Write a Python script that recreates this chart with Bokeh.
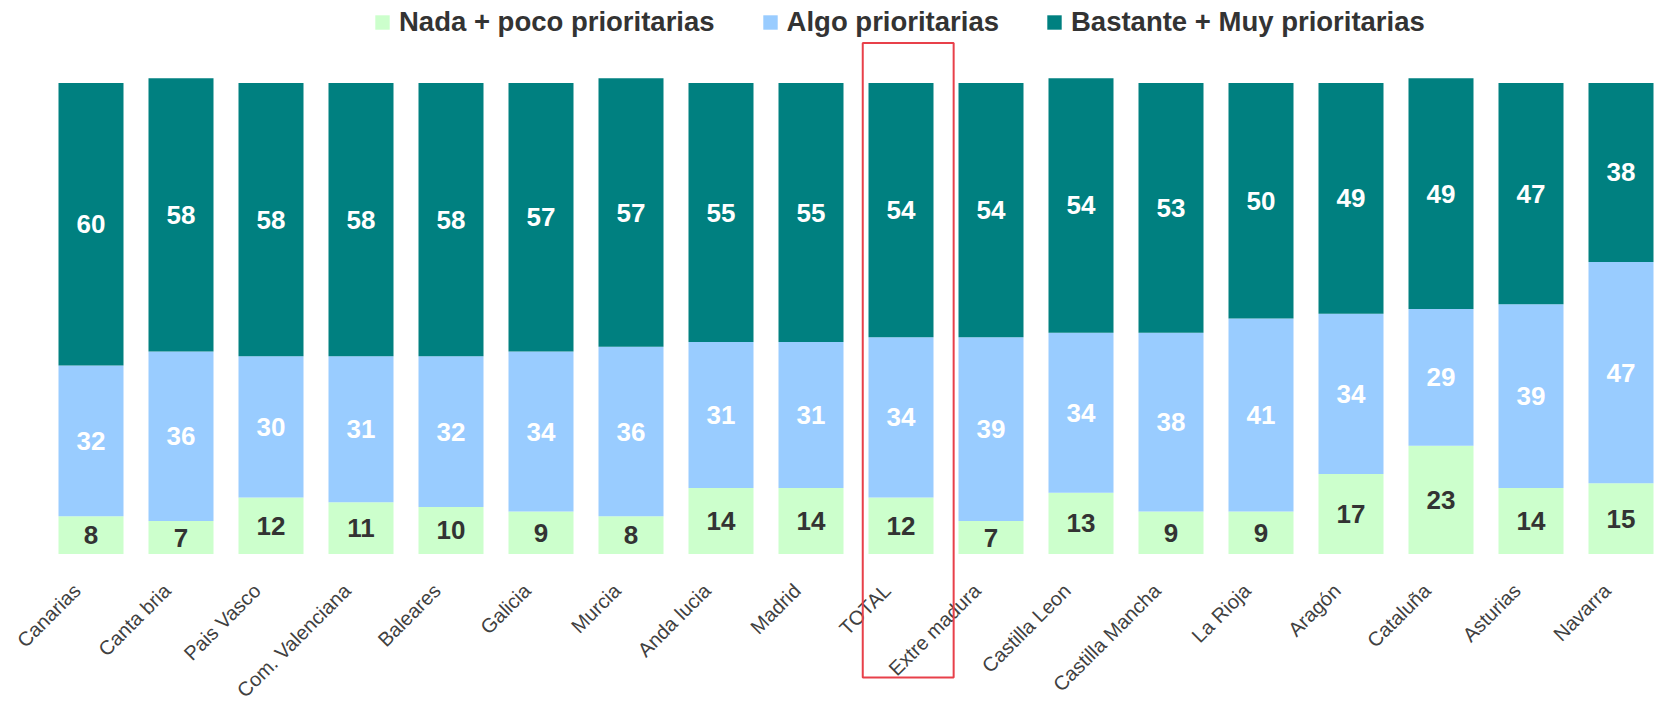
import math
from bokeh.plotting import figure
from bokeh.models import ColumnDataSource, Range1d
from bokeh.core.properties import value
from bokeh.embed import file_html
from bokeh.resources import INLINE

regions = ["Canarias", "Canta bria", "Pais Vasco", "Com. Valenciana", "Baleares",
           "Galicia", "Murcia", "Anda lucia", "Madrid", "TOTAL", "Extre madura",
           "Castilla Leon", "Castilla Mancha", "La Rioja", "Aragón", "Cataluña",
           "Asturias", "Navarra"]
nada = [8, 7, 12, 11, 10, 9, 8, 14, 14, 12, 7, 13, 9, 9, 17, 23, 14, 15]
algo = [32, 36, 30, 31, 32, 34, 36, 31, 31, 34, 39, 34, 38, 41, 34, 29, 39, 47]
bastante = [60, 58, 58, 58, 58, 57, 57, 55, 55, 54, 54, 54, 53, 50, 49, 49, 47, 38]
series_names = ["Nada + poco prioritarias", "Algo prioritarias", "Bastante + Muy prioritarias"]
colors = ["#CCFFCC", "#99CCFF", "#008080"]
highlight = "TOTAL"

W, H = 1656, 701
PX_X = 90.0
PX_Y = 4.71
X0 = 90.5
Y0 = 553.5

x = list(range(len(regions)))
src = ColumnDataSource(dict(
    x=x, nada=nada, algo=algo, bastante=bastante,
    c1=[a / 2 for a in nada],
    c2=[a + b / 2 for a, b in zip(nada, algo)],
    c3=[a + b + c / 2 for a, b, c in zip(nada, algo, bastante)],
    t1=[str(v) for v in nada], t2=[str(v) for v in algo], t3=[str(v) for v in bastante],
    lx=[i - 0.155 for i in x], ly=[-7.05] * len(x), lab=regions,
))

p = figure(width=W, height=H, output_backend="svg", toolbar_location=None,
           x_range=Range1d(-X0 / PX_X, (W - X0) / PX_X),
           y_range=Range1d(-(H - Y0) / PX_Y, Y0 / PX_Y),
           min_border_left=0, min_border_right=0, min_border_top=0, min_border_bottom=0)
p.axis.visible = False
p.grid.visible = False
p.outline_line_color = None

p.vbar_stack(["nada", "algo", "bastante"], x="x", width=65 / PX_X, source=src,
             color=colors, line_color=None, legend_label=series_names)

font = value("Liberation Sans")
p.text(x="x", y="c1", text="t1", source=src, text_align="center", text_baseline="middle",
       text_font=font, text_font_size="26px", text_font_style="bold", text_color="#333333")
p.text(x="x", y="c2", text="t2", source=src, text_align="center", text_baseline="middle",
       text_font=font, text_font_size="26px", text_font_style="bold", text_color="#FFFFFF")
p.text(x="x", y="c3", text="t3", source=src, text_align="center", text_baseline="middle",
       text_font=font, text_font_size="26px", text_font_style="bold", text_color="#FFFFFF")
p.text(x="lx", y="ly", text="lab", source=src, angle=math.pi / 4, text_align="right",
       text_baseline="middle", text_font=font, text_font_size="20px", text_color="#404040")

hi = regions.index(highlight)
p.rect(x=[hi + 0.08], y=[(108.5 - 26.2) / 2], width=1.01, height=108.5 + 26.2,
       fill_color=None, line_color="#E8404A", line_width=2)

leg = p.legend[0]
leg.orientation = "horizontal"
leg.location = (373, H - 8 - 30)
leg.padding = 0
leg.margin = 0
leg.spacing = 46
leg.label_standoff = 8
leg.glyph_width = 18
leg.glyph_height = 18
leg.label_height = 30
leg.border_line_color = None
leg.background_fill_alpha = 0
leg.label_text_font = "Liberation Sans"
leg.label_text_font_size = "27.5px"
leg.label_text_font_style = "bold"
leg.label_text_color = "#333333"

open("out.html", "w").write(file_html(p, INLINE))
